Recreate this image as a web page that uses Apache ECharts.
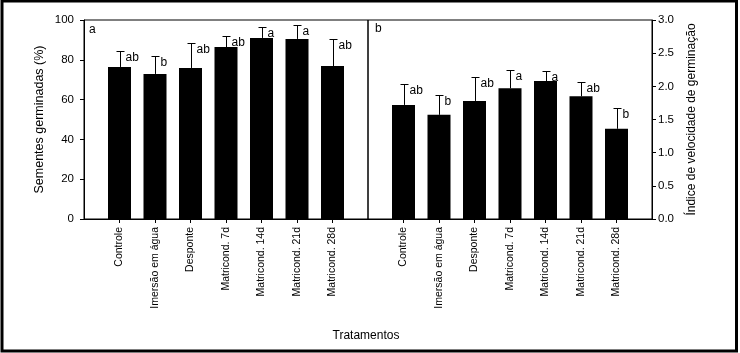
<!DOCTYPE html>
<html>
<head>
<meta charset="utf-8">
<script src="https://cdn.jsdelivr.net/npm/echarts@6/dist/echarts.min.js"></script>
<style>
  html, body { margin: 0; padding: 0; background: #fff; }
  #chart { width: 740px; height: 353px; }
</style>
</head>
<body>
<div id="chart"></div>
<script>
// tratamentos
const categories = ['Controle', 'Imersão em água', 'Desponte', 'Matricond. 7d', 'Matricond. 14d', 'Matricond. 21d', 'Matricond. 28d'];

// painel a - sementes germinadas (%)
const germMeans = [76.4, 72.9, 75.9, 86.4, 91.0, 90.5, 76.9];
const germErrors = [7.8, 8.9, 12.4, 5.4, 5.3, 6.8, 13.4];
const germLetters = ['ab', 'b', 'ab', 'ab', 'a', 'a', 'ab'];

// painel b - indice de velocidade de germinacao
const ivgMeans = [1.72, 1.57, 1.78, 1.97, 2.08, 1.85, 1.36];
const ivgErrors = [0.31, 0.30, 0.36, 0.27, 0.15, 0.21, 0.32];
const ivgLetters = ['ab', 'b', 'ab', 'a', 'a', 'ab', 'b'];

const leftTicks = [0, 20, 40, 60, 80, 100];
const rightTicks = [0, 0.5, 1.0, 1.5, 2.0, 2.5, 3.0];

const FONT = 'Liberation Sans, Arial, sans-serif';

// empty slot at each end so the 7 bars sit on positions 1..7 of 0..8
const xCats = [''].concat(categories, ['']);
const padded = arr => ['-'].concat(arr, ['-']);

const chart = echarts.init(document.getElementById('chart'));

function xAxisFor(gridIndex) {
  return {
    type: 'category',
    gridIndex: gridIndex,
    data: xCats,
    boundaryGap: false,
    axisLine: { show: true, lineStyle: { color: '#000', width: 1 } },
    axisTick: {
      show: true, length: 4, lineStyle: { color: '#000' },
      interval: (i, v) => v !== ''
    },
    axisLabel: {
      interval: 0, rotate: 90, margin: 8,
      color: '#000', fontSize: 10.5, fontFamily: FONT
    },
    splitLine: { show: false }
  };
}

function errorSeries(idx, means, errors, letters) {
  return {
    type: 'custom',
    xAxisIndex: idx,
    yAxisIndex: idx,
    z: 5,
    data: means.map((m, i) => [i + 1, m, m + errors[i]]),
    renderItem: function (params, api) {
      const base = api.coord([api.value(0), api.value(1)]);
      const top = api.coord([api.value(0), api.value(2)]);
      const x = Math.round(top[0]) + 0.5;
      const yt = Math.round(top[1]) + 0.5;
      const lineStyle = { stroke: '#000', lineWidth: 1 };
      return {
        type: 'group',
        children: [
          { type: 'line', shape: { x1: x, y1: base[1], x2: x, y2: yt }, style: lineStyle },
          { type: 'line', shape: { x1: x - 4, y1: yt, x2: x + 4, y2: yt }, style: lineStyle },
          {
            type: 'text', x: x + 5, y: yt,
            style: {
              text: letters[params.dataIndex], fill: '#000',
              font: '12px ' + FONT, verticalAlign: 'top', align: 'left'
            }
          }
        ]
      };
    }
  };
}

const option = {
  backgroundColor: '#fff',
  animation: false,
  grid: [
    { left: 84, top: 20, width: 284, height: 199, show: true, borderColor: '#000', borderWidth: 1, backgroundColor: 'transparent' },
    { left: 368, top: 20, width: 284, height: 199, show: true, borderColor: '#000', borderWidth: 1, backgroundColor: 'transparent' }
  ],
  xAxis: [xAxisFor(0), xAxisFor(1)],
  yAxis: [
    {
      type: 'value', gridIndex: 0,
      min: leftTicks[0], max: leftTicks[leftTicks.length - 1], interval: 20,
      name: 'Sementes germinadas (%)', nameLocation: 'middle', nameGap: 38,
      nameTextStyle: { color: '#000', fontSize: 12.5, fontFamily: FONT },
      axisLine: { show: true, lineStyle: { color: '#000' } },
      axisTick: { show: true, length: 4, lineStyle: { color: '#000' } },
      axisLabel: { color: '#000', fontSize: 11.5, fontFamily: FONT, margin: 10 },
      splitLine: { show: false }
    },
    {
      type: 'value', gridIndex: 1, position: 'right',
      min: rightTicks[0], max: rightTicks[rightTicks.length - 1], interval: 0.5,
      name: 'Índice de velocidade de germinação', nameLocation: 'middle', nameGap: 34,
      nameTextStyle: { color: '#000', fontSize: 12, fontFamily: FONT },
      axisLine: { show: true, lineStyle: { color: '#000' } },
      axisTick: { show: true, length: 4, lineStyle: { color: '#000' } },
      axisLabel: { color: '#000', fontSize: 11.5, fontFamily: FONT, margin: 6, formatter: v => v.toFixed(1) },
      splitLine: { show: false }
    }
  ],
  series: [
    {
      type: 'bar', xAxisIndex: 0, yAxisIndex: 0,
      data: padded(germMeans), barWidth: 23,
      itemStyle: { color: '#000' }
    },
    {
      type: 'bar', xAxisIndex: 1, yAxisIndex: 1,
      data: padded(ivgMeans), barWidth: 23,
      itemStyle: { color: '#000' }
    },
    errorSeries(0, germMeans, germErrors, germLetters),
    errorSeries(1, ivgMeans, ivgErrors, ivgLetters)
  ],
  graphic: [
    {
      type: 'rect', silent: true,
      shape: { x: 2, y: 1, width: 734.5, height: 350 },
      style: { fill: 'none', stroke: '#000', lineWidth: 3 }
    },
    { type: 'text', left: 89, top: 24, style: { text: 'a', fill: '#000', font: '12px ' + FONT } },
    { type: 'text', left: 375, top: 23, style: { text: 'b', fill: '#000', font: '12px ' + FONT } },
    {
      type: 'text', x: 366, y: 336,
      style: { text: 'Tratamentos', fill: '#000', font: '12px ' + FONT, align: 'center', verticalAlign: 'middle' }
    }
  ]
};

chart.setOption(option);
</script>
</body>
</html>
